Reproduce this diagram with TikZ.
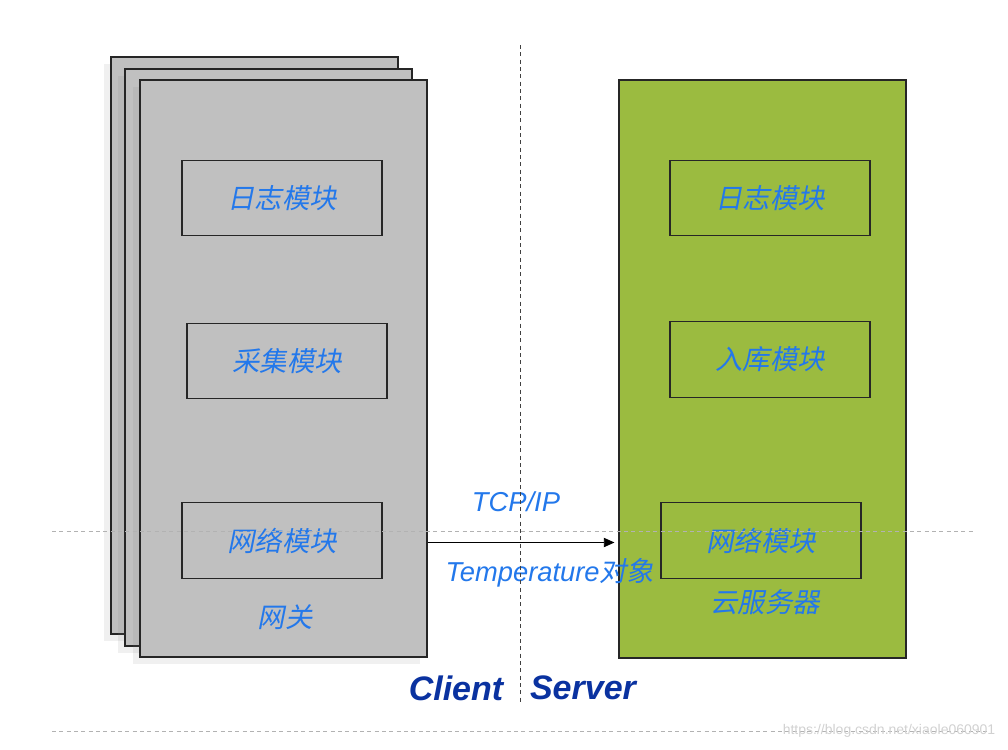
\documentclass[tikz,border=0pt]{standalone}
\usepackage{fontspec}
\setmainfont{Liberation Sans}
\newfontfamily\zhfont[FakeSlant=0.2]{Noto Sans CJK SC}
\usepackage{xcolor}
\usetikzlibrary{shadows}
\usetikzlibrary{arrows.meta}
\definecolor{gwgray}{RGB}{192,192,192}
\definecolor{cloudgreen}{RGB}{155,187,64}
\definecolor{txtblue}{RGB}{35,120,235}
\definecolor{sideblue}{RGB}{10,50,160}
\tikzset{
  bigbox/.style={draw=black!85,line width=0.8pt,minimum width=215.25pt,minimum height=432.75pt,inner sep=0pt},
  modbox/.style={draw=black!85,line width=0.8pt,minimum width=150pt,minimum height=56.5pt,inner sep=0pt,
    text=txtblue,font=\zhfont\fontsize{20.5}{24}\selectfont},
  zhlabel/.style={text=txtblue,font=\zhfont\fontsize{20.5}{24}\selectfont},
  sidelabel/.style={text=sideblue,font=\bfseries\itshape\fontsize{25.5}{30}\selectfont},
  divide/.style={black!30,dash pattern=on 3pt off 2.5pt,line width=0.6pt}
}

\begin{document}
\begin{tikzpicture}[x=0.75pt,y=-0.75pt]
\useasboundingbox (0,0) rectangle (1008,750);

% stacked gateways behind
\foreach \i/\cx/\cy in {1/254.5/345.5,2/268.5/357.5}
  \node[bigbox,fill=gwgray,drop shadow={shadow xshift=-5pt,shadow yshift=-5pt,opacity=0.12}] (gw\i) at (\cx,\cy) {};
\node[bigbox,fill=gwgray,drop shadow={shadow xshift=-5pt,shadow yshift=-5pt,opacity=0.12}] (gw) at (283.5,368.5) {};

% cloud server
\node[bigbox,fill=cloudgreen,minimum height=433.5pt] (cloud) at (762.5,369) {};

% modules of the gateway
\node[modbox] (logL) at (282,198) {日志模块};
\node[modbox] (colL) at (287,361) {采集模块};
\node[modbox] (netL) at (282,540.5) {网络模块};
\node[zhlabel] (gwname) at (285,617) {网关};

% modules of the server
\node[modbox] (logR) at (770,198) {日志模块};
\node[modbox] (dbR) at (770,359.5) {入库模块};
\node[modbox] (netR) at (761,540.5) {网络模块};
\node[zhlabel] (cloudname) at (765,602) {云服务器};

% link
\draw[-{Triangle[length=8pt,width=7pt]},line width=0.7pt] ([yshift=-1.5pt]gw.east |- netL) -- ([xshift=-3pt,yshift=-1.5pt]cloud.west |- netL);
\node[text=txtblue,font=\itshape\fontsize{20.5}{24}\selectfont] (proto) at (516,502) {TCP/IP};
\node[text=txtblue,font=\itshape\fontsize{20.5}{24}\selectfont] (payload) at (550,573) {Temperature{\zhfont 对象}};

% divider lines
\coordinate (vtop) at (520,45);
\coordinate (vbot) at (520,702);
\coordinate (hl) at (52,531);
\coordinate (hr) at (975,531);
\coordinate (bl) at (52,731);
\coordinate (br) at (990,731);
\draw[divide,black!75] (vtop) -- (vbot);
\draw[divide] (hl) -- (hr);
\draw[divide] (bl) -- (br);

\node[sidelabel] (client) at (456,688) {Client};
\node[sidelabel] (server) at (583,688) {Server};

\node[text=black!18,font=\fontsize{10.5}{12}\selectfont,anchor=east] (mark) at (1000,731) {https://blog.csdn.net/xiaole060901};
\end{tikzpicture}
\end{document}
